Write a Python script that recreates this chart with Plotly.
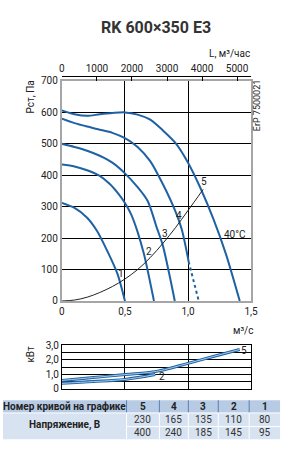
import plotly.graph_objects as go

W, H = 289, 454

# ---------------- data ----------------
# Fan curves (Q in m3/s, Pst in Pa)
q5 = [0, 0.1, 0.2, 0.3, 0.4, 0.5, 0.6, 0.7, 0.8, 0.9, 1.0, 1.1, 1.2, 1.3, 1.41]
p5 = [606, 594, 589, 594, 598, 600, 593, 577, 543, 503, 440, 358, 262, 150, 0]
q4 = [0, 0.1, 0.2, 0.3, 0.4, 0.5, 0.6, 0.7, 0.8, 0.9, 0.95, 1.005]
p4 = [580, 566, 555, 545, 535, 518, 490, 445, 372, 285, 228, 125]
q4_dash = [1.005, 1.085]
p4_dash = [125, 0]
q3 = [0, 0.1, 0.2, 0.3, 0.4, 0.5, 0.6, 0.68, 0.75, 0.8, 0.85, 0.895]
p3 = [500, 490, 478, 462, 440, 406, 362, 318, 236, 177, 88, 0]
q2 = [0, 0.1, 0.2, 0.3, 0.38, 0.45, 0.5, 0.55, 0.6, 0.65, 0.68, 0.73]
p2 = [434, 428, 416, 398, 372, 340, 312, 275, 220, 150, 97, 0]
q1 = [0, 0.1, 0.2, 0.28, 0.36, 0.44, 0.5]
p1 = [312, 296, 265, 222, 159, 87, 0]
# System curve
qs = [0, 0.1, 0.2, 0.3, 0.4, 0.5, 0.6, 0.7, 0.8, 0.9, 1.0, 1.12]
ps = [0, 3, 12, 27, 46, 70, 100, 138, 183, 233, 288, 355]

# Power curves (kW)
qw5 = [0, 0.25, 0.5, 0.75, 1.0, 1.2, 1.41]
w5 = [0.58, 0.78, 0.98, 1.2, 1.75, 2.22, 2.7]
qw2 = [0, 0.25, 0.5, 0.74]
w2 = [0.38, 0.5, 0.65, 0.98]

# Axis ticks
x_ticks = [0, 0.5, 1.0, 1.5]
x_ticktext = ["0", "0,5", "1,0", "1,5"]
top_ticks = [0, 1000, 2000, 3000, 4000, 5000]
y_ticks = [0, 100, 200, 300, 400, 500, 600, 700]
yk_ticks = [0, 0.5, 1.0, 1.5, 2.0, 2.5, 3.0]
yk_ticktext = ["0", "", "1,0", "", "2,0", "", "3,0"]

# Table
curve_nums = ["5", "4", "3", "2", "1"]
volt_230 = [230, 165, 135, 110, 80]
volt_400 = [400, 240, 185, 145, 95]

BLUE = "#1f62a3"
FONT = "Roboto"
TXT = "#222222"


def px(x):
    return x / W


def py(y):
    return 1 - y / H


fig = go.Figure()

for q, p in [(q5, p5), (q4, p4), (q3, p3), (q2, p2), (q1, p1)]:
    fig.add_trace(go.Scatter(x=q, y=p, mode="lines", line=dict(color=BLUE, width=2, shape="spline", smoothing=0.8),
                             xaxis="x", yaxis="y", hoverinfo="skip"))
fig.add_trace(go.Scatter(x=q4_dash, y=p4_dash, mode="lines", line=dict(color=BLUE, width=2, dash="3px,3px"),
                         xaxis="x", yaxis="y", hoverinfo="skip"))
fig.add_trace(go.Scatter(x=qs, y=ps, mode="lines", line=dict(color="#222222", width=1, shape="spline"),
                         xaxis="x", yaxis="y", hoverinfo="skip"))
# dummy trace for top axis
fig.add_trace(go.Scatter(x=top_ticks, y=[350] * len(top_ticks), mode="markers", marker=dict(opacity=0),
                         xaxis="x2", yaxis="y", hoverinfo="skip"))

for q, w in [(qw5, w5), (qw2, w2)]:
    fig.add_trace(go.Scatter(x=q, y=w, mode="lines", line=dict(color=BLUE, width=3, shape="spline"),
                             xaxis="x3", yaxis="y3", hoverinfo="skip"))
    fig.add_trace(go.Scatter(x=q, y=w, mode="lines", line=dict(color="#a9cbeb", width=1, shape="spline"),
                             xaxis="x3", yaxis="y3", hoverinfo="skip"))

xdom = [px(61), px(257)]
frame = "#a6a6a6"
tickfont = dict(family=FONT, size=10, color=TXT)

fig.update_layout(
    width=W, height=H, margin=dict(l=0, r=0, t=0, b=0),
    paper_bgcolor="white", plot_bgcolor="white", showlegend=False,
    xaxis=dict(domain=xdom, range=[0, 1.5], tickvals=x_ticks, ticktext=x_ticktext, showgrid=True,
               gridcolor="black", gridwidth=1, zeroline=False, showline=True, linecolor=frame, linewidth=2,
               mirror=True, ticks="", tickfont=tickfont, anchor="y", fixedrange=True),
    yaxis=dict(domain=[py(303), py(77)], range=[0, 700], tickvals=y_ticks, showgrid=True, gridcolor="black",
               gridwidth=1, zeroline=False, showline=True, linecolor=frame, linewidth=2, mirror=True,
               ticks="", tickfont=tickfont, anchor="x", fixedrange=True),
    xaxis2=dict(overlaying="x", side="top", anchor="free", position=py(72), range=[0, 5400],
                tickvals=top_ticks, showgrid=False, zeroline=False, showline=True, linecolor="black",
                linewidth=1, ticks="inside", ticklen=4, tickcolor="black", tickfont=tickfont, fixedrange=True),
    xaxis3=dict(domain=xdom, range=[0, 1.5], tickvals=[0.5, 1.0], showticklabels=False, showgrid=True,
                gridcolor="black", gridwidth=1, zeroline=False, showline=True, linecolor="black", linewidth=1,
                mirror=True, ticks="", anchor="y3", fixedrange=True),
    yaxis3=dict(domain=[py(393.3), py(348.3)], range=[0, 3], tickvals=yk_ticks, ticktext=yk_ticktext,
                showgrid=True, gridcolor="black", gridwidth=1, zeroline=False, showline=True, linecolor="black",
                linewidth=1, mirror=True, ticks="", tickfont=tickfont, anchor="x3", fixedrange=True),
)

ann = []


def A(x, y, text, size=10, xref="paper", yref="paper", xanchor="center", yanchor="middle", angle=0,
      color=TXT, bold=False):
    if bold:
        text = "<b>" + text + "</b>"
    ann.append(dict(x=x, y=y, xref=xref, yref=yref, text=text, showarrow=False, xanchor=xanchor,
                    yanchor=yanchor, textangle=angle, font=dict(family=FONT, size=size, color=color)))


A(px(159), py(22), "RK 600×350 E3", size=16, bold=True, color="#333333")
A(px(258), py(49), "L, м³/час", size=10, xanchor="right")
A(px(29), py(93), "Рст, Па", size=10, angle=-90)
A(px(263), py(102), "ErP 7500021", size=9, angle=-90)
A(px(249), py(333), "м³/с", size=10)
A(px(29), py(357), "кВт", size=10, angle=-90)

# curve labels (main plot)
for x, y, t in [(0.465, 88, "1"), (0.69, 158, "2"), (0.817, 216, "3"), (0.93, 272, "4"), (1.13, 380, "5")]:
    A(x, y, t, size=10, xref="x", yref="y")
A(1.27, 213, "40°C", size=10, xref="x", yref="y", xanchor="left")
# power labels
A(1.44, 2.62, "5", size=10, xref="x3", yref="y3")
A(0.79, 0.87, "2", size=10, xref="x3", yref="y3")

# ---------------- table ----------------
shapes = []
col_edges = [0, 128, 162, 192, 223, 255, 287]
HEAD = "#b7cbe5"
BODY = "#d8e3f1"
shapes.append(dict(type="rect", xref="paper", yref="paper", x0=px(0), x1=px(287), y0=py(418), y1=py(405),
                   fillcolor=HEAD, line=dict(width=0), layer="below"))
shapes.append(dict(type="rect", xref="paper", yref="paper", x0=px(0), x1=px(287), y0=py(445), y1=py(418),
                   fillcolor=BODY, line=dict(width=0), layer="below"))
for xe in col_edges[1:-1]:
    shapes.append(dict(type="line", xref="paper", yref="paper", x0=px(xe), x1=px(xe), y0=py(418), y1=py(405),
                       line=dict(color="#5b7fb3", width=1)))
    shapes.append(dict(type="line", xref="paper", yref="paper", x0=px(xe), x1=px(xe), y0=py(445), y1=py(418),
                       line=dict(color="white", width=1)))
shapes.append(dict(type="line", xref="paper", yref="paper", x0=px(0), x1=px(287), y0=py(418), y1=py(418),
                   line=dict(color="white", width=1)))
shapes.append(dict(type="line", xref="paper", yref="paper", x0=px(128), x1=px(287), y0=py(432), y1=py(432),
                   line=dict(color="white", width=1)))

A(px(64), py(411.5), "Номер кривой на графике", size=10, bold=True)
A(px(64), py(430), "Напряжение, В", size=10, bold=True)
for i in range(5):
    cx = px((col_edges[i + 1] + col_edges[i + 2]) / 2)
    A(cx, py(411.5), curve_nums[i], size=10, bold=True)
    A(cx, py(425), str(volt_230[i]), size=10, color="#333333")
    A(cx, py(438.5), str(volt_400[i]), size=10, color="#333333")

fig.update_layout(annotations=ann, shapes=shapes)
fig.write_html("out.html")
